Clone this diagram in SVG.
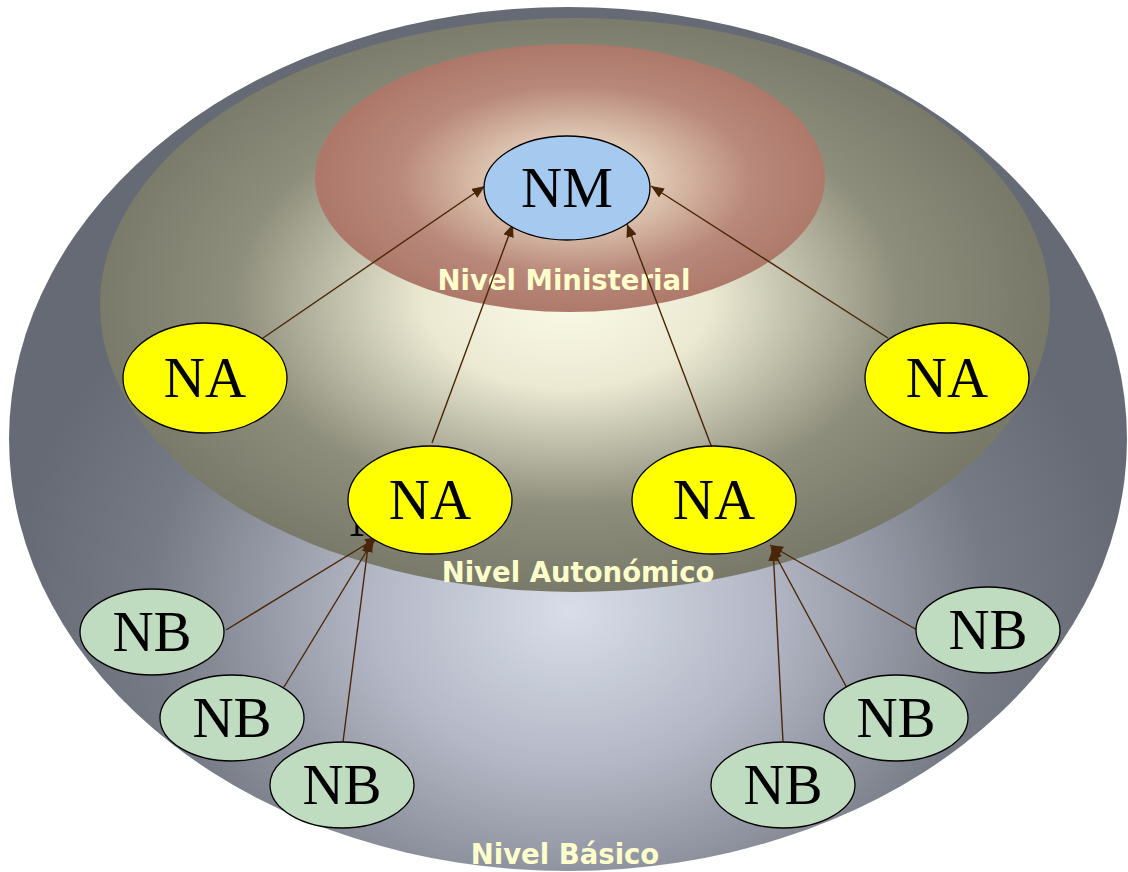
<svg xmlns="http://www.w3.org/2000/svg" width="1128" height="872" viewBox="0 0 1128 872">
<style>
.node text, .ghost{font-family:"Liberation Serif","Times New Roman",serif;font-size:57px;fill:#000;text-anchor:middle}
.lvl{font-family:"DejaVu Sans",Verdana,sans-serif;font-weight:bold;font-size:27.5px;fill:#ffffcc;text-anchor:middle}
.na{fill:#ffff00;stroke:#000;stroke-width:1.3}
.nb{fill:#c0dcc0;stroke:#000;stroke-width:1.3}
.nm{fill:#a6c9ef;stroke:#000;stroke-width:1.3}
.conn line{stroke:#4a2608;stroke-width:1.4;marker-end:url(#ah)}
</style>
<defs>
<radialGradient id="gOuter" cx="570" cy="610" r="560" gradientUnits="userSpaceOnUse" gradientTransform="translate(570 610) scale(1 0.8) translate(-570 -610)">
<stop offset="0" stop-color="#d8dde9"/>
<stop offset="0.35" stop-color="#b4b8c6"/>
<stop offset="0.75" stop-color="#767a84"/>
<stop offset="1" stop-color="#666a74"/>
</radialGradient>
<radialGradient id="gMid" cx="567" cy="300" r="475" gradientUnits="userSpaceOnUse" gradientTransform="translate(567 300) scale(1 0.62) translate(-567 -300)">
<stop offset="0" stop-color="#fbfae6"/>
<stop offset="0.3" stop-color="#ebe9d2"/>
<stop offset="0.7" stop-color="#8e8e7c"/>
<stop offset="1" stop-color="#79796a"/>
</radialGradient>
<radialGradient id="gIn" cx="575" cy="180" r="255" gradientUnits="userSpaceOnUse" gradientTransform="translate(575 180) scale(1 0.53) translate(-575 -180)">
<stop offset="0" stop-color="#f2ecd8"/>
<stop offset="0.3" stop-color="#e0cab5"/>
<stop offset="0.7" stop-color="#b8887a"/>
<stop offset="1" stop-color="#ad786a"/>
</radialGradient>
<marker id="ah" viewBox="0 0 12 10" refX="12" refY="5" markerWidth="13" markerHeight="11" markerUnits="userSpaceOnUse" orient="auto">
<path d="M0,0 L12,5 L0,10 z" fill="#4a2608"/>
</marker>
</defs>
<g id="levels">
<ellipse cx="568" cy="439" rx="559" ry="432" fill="url(#gOuter)"/>
<ellipse cx="575" cy="305" rx="475" ry="287" fill="url(#gMid)"/>
<ellipse cx="570" cy="178" rx="255" ry="134" fill="url(#gIn)"/>
<text class="lvl" x="564" y="290">Nivel Ministerial</text>
<text class="lvl" x="578" y="582">Nivel Autonómico</text>
<text class="lvl" x="565" y="864">Nivel Básico</text>
</g>
<text class="ghost" x="349" y="536" style="text-anchor:start">N</text>
<g id="connectors" class="conn">
<line x1="263" y1="338" x2="485" y2="186"/>
<line x1="432" y1="443" x2="513" y2="224"/>
<line x1="712" y1="448" x2="627" y2="224"/>
<line x1="888" y1="338" x2="651" y2="186"/>
<line x1="226" y1="630" x2="378" y2="537"/>
<line x1="284" y1="687" x2="374" y2="539"/>
<line x1="343" y1="742" x2="369" y2="539"/>
<line x1="917" y1="630" x2="770" y2="545"/>
<line x1="847" y1="688" x2="771" y2="547"/>
<line x1="783" y1="742" x2="773" y2="548"/>
</g>
<g id="nm" class="node"><ellipse class="nm" cx="567" cy="188" rx="83" ry="52"/><text x="567" y="207">NM</text></g>
<g id="na1" class="node"><ellipse class="na" cx="205" cy="378" rx="82" ry="55"/><text x="205" y="397">NA</text></g>
<g id="na2" class="node"><ellipse class="na" cx="947" cy="378" rx="82" ry="55"/><text x="947" y="397">NA</text></g>
<g id="na3" class="node"><ellipse class="na" cx="430" cy="500" rx="82" ry="54"/><text x="430" y="519">NA</text></g>
<g id="na4" class="node"><ellipse class="na" cx="714" cy="500" rx="82" ry="54"/><text x="714" y="519">NA</text></g>
<g id="nb1" class="node"><ellipse class="nb" cx="152" cy="632" rx="72" ry="43"/><text x="152" y="651">NB</text></g>
<g id="nb2" class="node"><ellipse class="nb" cx="232" cy="718" rx="72" ry="43"/><text x="232" y="737">NB</text></g>
<g id="nb3" class="node"><ellipse class="nb" cx="342" cy="785" rx="72" ry="43"/><text x="342" y="804">NB</text></g>
<g id="nb4" class="node"><ellipse class="nb" cx="988" cy="630" rx="72" ry="43"/><text x="988" y="649">NB</text></g>
<g id="nb5" class="node"><ellipse class="nb" cx="896" cy="718" rx="72" ry="43"/><text x="896" y="737">NB</text></g>
<g id="nb6" class="node"><ellipse class="nb" cx="783" cy="785" rx="72" ry="43"/><text x="783" y="804">NB</text></g>
</svg>
